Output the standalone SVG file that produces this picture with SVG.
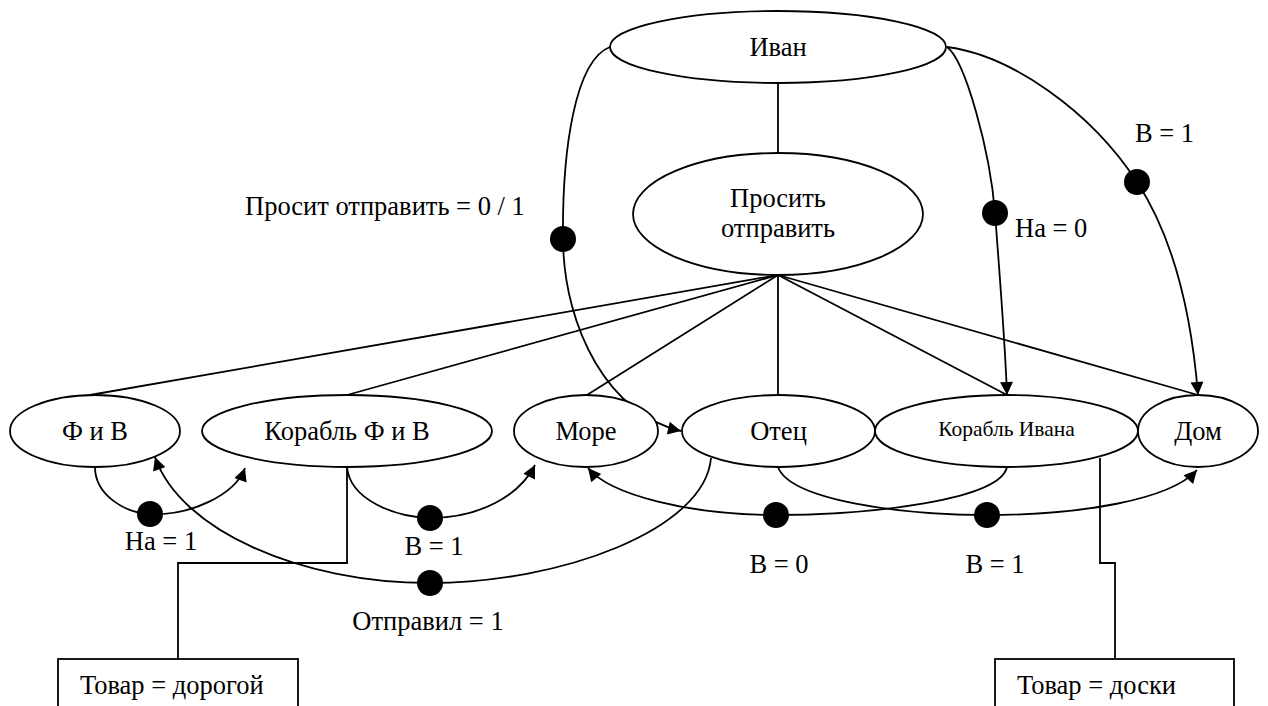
<svg xmlns="http://www.w3.org/2000/svg" width="1268" height="706" viewBox="0 0 1268 706">
<style>
.n{fill:#fff;stroke:#000;stroke-width:1.8}
.c{fill:none;stroke:#000;stroke-width:1.8}
.a{marker-end:url(#ah)}
.d{fill:#000}
text{font-family:"Liberation Serif","Times New Roman",serif;font-size:26.5px;fill:#000}
.m{text-anchor:middle}
.s{font-size:21.5px}
</style>
<defs>
<marker id="ah" viewBox="0 0 10 10" markerUnits="userSpaceOnUse" markerWidth="15" markerHeight="13" refX="10" refY="5" orient="auto">
<path d="M0,0 L10,5 L0,10 z" fill="#000"/>
</marker>
</defs>
<rect width="1268" height="706" fill="#fff"/>
<g id="connectors">
<line class="c" x1="778" y1="83" x2="778" y2="153"/>
<line class="c" x1="778" y1="275" x2="90" y2="395"/>
<line class="c" x1="778" y1="275" x2="347" y2="395"/>
<line class="c" x1="778" y1="275" x2="587" y2="395"/>
<line class="c" x1="778" y1="275" x2="778" y2="395"/>
<line class="c" x1="778" y1="275" x2="1007" y2="395"/>
<line class="c" x1="778" y1="275" x2="1198" y2="395"/>
<path class="c a" d="M610,47 C575,60 562,150 563,240 C564,330 610,415 681,431"/>
<path class="c a" d="M947,47 C965,60 990,150 995,213 C1000,280 1005,340 1007,395"/>
<path class="c a" d="M947,47 C1010,55 1090,110 1137,182 C1175,240 1192,320 1198,395"/>
<path class="c a" d="M95,467 C95,495 125,513 150,514 C190,516 235,495 245,468"/>
<path class="c a" d="M347,467 C350,500 395,517 430,518 C480,518 520,495 535,465"/>
<path class="c a" d="M711,458 C705,530 560,583 430,583 C300,583 180,530 155,457"/>
<path class="c a" d="M778,467 C790,500 900,515 987,515 C1080,515 1170,500 1197,470"/>
<path class="c a" d="M1007,467 C1000,500 870,515 776,515 C690,515 610,495 588,468"/>
<polyline class="c" points="347,467 347,563 178,563 178,659"/>
<polyline class="c" points="1100,458 1100,563 1115,563 1115,659"/>
<circle class="d" cx="563" cy="239" r="13"/>
<circle class="d" cx="995" cy="213" r="13"/>
<circle class="d" cx="1137" cy="182" r="13"/>
<circle class="d" cx="150" cy="514" r="13"/>
<circle class="d" cx="430" cy="518" r="13"/>
<circle class="d" cx="430" cy="583" r="13"/>
<circle class="d" cx="776" cy="515" r="13"/>
<circle class="d" cx="987" cy="515" r="13"/>
<text x="245" y="215">Просит отправить = 0 / 1</text>
<text x="1015" y="237">На = 0</text>
<text x="1135" y="142">В = 1</text>
<text x="161" y="550" class="m">На = 1</text>
<text x="434" y="555" class="m">В = 1</text>
<text x="428" y="630" class="m">Отправил = 1</text>
<text x="779" y="573" class="m">В = 0</text>
<text x="995" y="573" class="m">В = 1</text>
</g>
<g id="ivan"><ellipse class="n" cx="778" cy="47" rx="168" ry="36"/><text x="778" y="56" class="m">Иван</text></g>
<g id="prosit"><ellipse class="n" cx="778" cy="214" rx="145" ry="61"/><text x="778" y="207" class="m">Просить</text><text x="778" y="237" class="m">отправить</text></g>
<g id="fiv"><ellipse class="n" cx="95" cy="431" rx="85" ry="36"/><text x="95" y="440" class="m">Ф и В</text></g>
<g id="korabl-fiv"><ellipse class="n" cx="347" cy="431" rx="145" ry="36"/><text x="347" y="440" class="m">Корабль Ф и В</text></g>
<g id="more"><ellipse class="n" cx="586" cy="431" rx="72" ry="36"/><text x="586" y="440" class="m">Море</text></g>
<g id="otec"><ellipse class="n" cx="778.5" cy="431" rx="96.5" ry="36"/><text x="778.5" y="440" class="m">Отец</text></g>
<g id="korabl-ivana"><ellipse class="n" cx="1006.5" cy="431" rx="131.5" ry="36"/><text x="1006.5" y="436" class="m s">Корабль Ивана</text></g>
<g id="dom"><ellipse class="n" cx="1198" cy="431" rx="60" ry="36"/><text x="1198" y="440" class="m">Дом</text></g>
<g id="tovar-dorogoy"><rect class="n" x="58" y="659" width="240" height="70"/><text x="80" y="694">Товар = дорогой</text></g>
<g id="tovar-doski"><rect class="n" x="995" y="659" width="239" height="70"/><text x="1017" y="694">Товар = доски</text></g>
</svg>
